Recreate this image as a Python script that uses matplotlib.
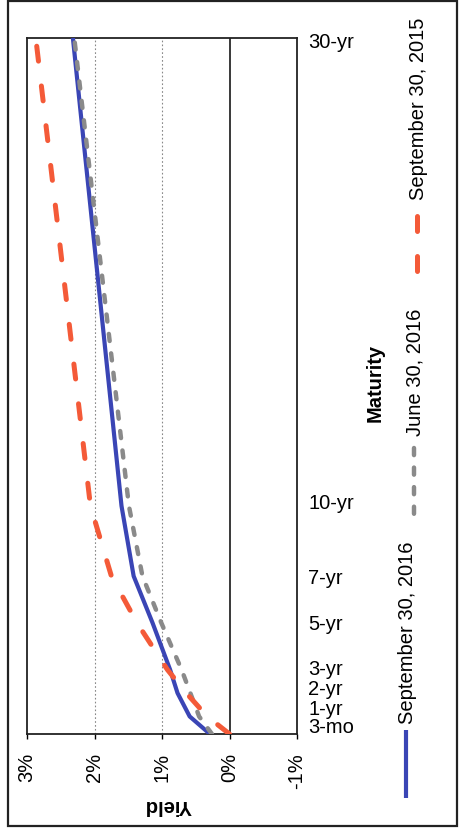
import matplotlib
matplotlib.use('Agg')
import matplotlib.pyplot as plt
from matplotlib.lines import Line2D
from matplotlib.patches import Rectangle

plt.rcParams['font.family'] = ['Liberation Sans', 'DejaVu Sans']

# Treasury yield curves (%), maturity in years
maturity_labels = ['3-mo', '1-yr', '2-yr', '3-yr', '5-yr', '7-yr', '10-yr', '30-yr']
maturity_years = [0.25, 1, 2, 3, 5, 7, 10, 30]
sep_2016 = [0.29, 0.59, 0.77, 0.88, 1.14, 1.42, 1.60, 2.32]
jun_2016 = [0.26, 0.45, 0.58, 0.71, 1.01, 1.29, 1.49, 2.30]
sep_2015 = [0.00, 0.33, 0.64, 0.92, 1.37, 1.75, 2.06, 2.87]
yield_ticks = [3, 2, 1, 0, -1]
yield_tick_labels = ['3%', '2%', '1%', '0%', '-1%']

# label slots spread a little at the short end so they don't crowd
label_slots = [0.6, 1.4, 2.25, 3.1, 5.0, 7.0, 10.2, 29.9]

W, H = 465, 833
FS = 14.5

BLUE = '#3a45b5'
GRAY = '#8a8a8a'
RED = '#f45a38'

styles = {
    'sep16': dict(color=BLUE, lw=3.0, solid_capstyle='butt'),
    'jun16': dict(color=GRAY, lw=3.2, linestyle=(0, (1.6, 2.8)),
                  dash_capstyle='round'),
    'sep15': dict(color=RED, lw=3.6, linestyle=(0, (3, 5)),
                  dash_capstyle='round'),
}

fig = plt.figure(figsize=(W / 100, H / 100), dpi=100)
ax = fig.add_axes([27 / W, 1 - 734 / H, 270 / W, 696 / H])

# rotated layout: yield runs along x (reversed), maturity up the y axis
for v in yield_ticks[1:-1]:
    if v == 0:
        ax.axvline(v, color='#2a2a2a', lw=1.3, zorder=1)
    else:
        ax.axvline(v, color='#888888', lw=0.8, linestyle=(0, (1.5, 2)), zorder=1)

ax.plot(sep_2016, maturity_years, zorder=3, **styles['sep16'])
ax.plot(jun_2016, maturity_years, zorder=4, **styles['jun16'])
ax.plot(sep_2015, maturity_years, zorder=5, **styles['sep15'])

ax.set_xlim(3, -1)
ax.set_ylim(0.25, 30)

ax.set_xticks(yield_ticks)
ax.set_xticklabels(yield_tick_labels, rotation=90, va='top', ha='center', fontsize=FS)
ax.tick_params(axis='x', direction='out', length=3.6, width=1.0, pad=10)

ax.yaxis.tick_right()
ax.set_yticks(label_slots)
ax.set_yticklabels(maturity_labels, fontsize=FS)
ax.tick_params(axis='y', length=0, pad=8)

for s in ax.spines.values():
    s.set_linewidth(1.3)
    s.set_color('#222222')

fig.text(168 / W, 1 - 805 / H, 'Yield', rotation=180, ha='center', va='center',
         fontsize=FS, fontweight='bold')
fig.text(375 / W, 1 - 383 / H, 'Maturity', rotation=90, ha='center', va='center',
         fontsize=FS, fontweight='bold')

# legend, drawn sideways under the maturity labels
legend_items = [
    ('sep16', 'September 30, 2016', 406, (730, 798), 633),
    ('jun16', 'June 30, 2016', 414, (448, 520), 372),
    ('sep15', 'September 30, 2015', 417, (216, 280), 109),
]
for key, text, x, (y0, y1), ty in legend_items:
    st = dict(styles[key])
    fig.add_artist(Line2D([x / W, x / W], [1 - y0 / H, 1 - y1 / H], **st))
    fig.text((x + 1) / W, 1 - ty / H, text, rotation=90, ha='center', va='center',
             fontsize=FS)

# outer frame
fig.add_artist(Rectangle((8 / W, 1 - 826 / H), 449 / W, 825 / H, fill=False,
                         lw=1.6, edgecolor='#222222', transform=fig.transFigure))

fig.savefig('out.png', dpi=100)
